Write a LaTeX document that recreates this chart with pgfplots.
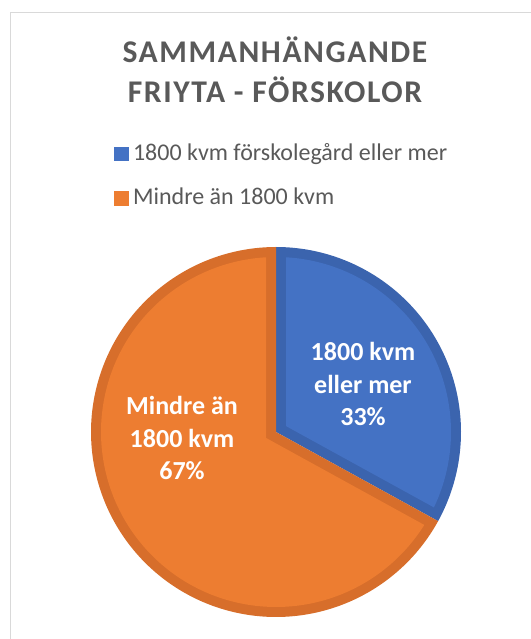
\documentclass[border=0pt]{standalone}
\usepackage{pgfplots}
\pgfplotsset{compat=1.18}
\usepackage{pgfplotstable}
\usepackage{fontspec}
\setmainfont{Carlito}
\definecolor{bfill}{HTML}{4472C4}
\definecolor{bline}{HTML}{3B64AE}
\definecolor{ofill}{HTML}{ED7D31}
\definecolor{oline}{HTML}{D76E2B}
\definecolor{txt}{HTML}{595959}
\definecolor{framec}{HTML}{D9D9D9}

\pgfplotstableread{
label value
A 33
B 67
}\pietable

\begin{document}
\begin{tikzpicture}
\pgfplotstablegetelem{0}{value}\of\pietable
\pgfmathsetmacro{\va}{\pgfplotsretval}
\pgfmathsetmacro{\ta}{90-3.6*\va}
\pgfmathsetmacro{\tb}{\ta+360}
\pgfmathsetmacro{\R}{185}
\pgfmathsetmacro{\w}{10}
\pgfmathsetmacro{\Ri}{\R-\w}
\pgfmathsetmacro{\a}{asin(\w/\Ri)}
\pgfmathsetmacro{\cy}{\w*(1+sin(\ta))/cos(\ta)}
\pgfmathsetmacro{\bs}{\ta+\a}
\pgfmathsetmacro{\be}{90-\a}
\pgfmathsetmacro{\os}{90+\a}
\pgfmathsetmacro{\oe}{\tb-\a}
\useasboundingbox (0,0) rectangle (398.25pt,479.25pt);
\begin{scope}[x=0.75pt,y=-0.75pt,shift={(0pt,479.25pt)}]
\draw[framec, line width=1.1pt] (10.5,650) -- (10.5,12.7) -- (540,12.7);
\node[font={\bfseries\fontsize{23.7}{28}\selectfont\addfontfeature{LetterSpace=5}}, text=txt, anchor=base, inner sep=0pt] at (275,63) {SAMMANHÄNGANDE};
\node[font={\bfseries\fontsize{23.7}{28}\selectfont\addfontfeature{LetterSpace=5}}, text=txt, anchor=base, inner sep=0pt] at (275,103) {FRIYTA - FÖRSKOLOR};
\end{scope}
\begin{axis}[at={(207pt,155.25pt)}, anchor=center,
  x=0.75pt, y=0.75pt, xmin=-200, xmax=200, ymin=-200, ymax=200,
  hide axis, clip=false,
  legend cell align=left,
  legend style={at={(axis description cs:0.09375,1.22825)}, anchor=north west,
    draw=none, fill=none, inner sep=0pt, outer sep=0pt,
    font=\fontsize{18}{21.6}\selectfont, text=txt,
    row sep=13.2pt,
    nodes={inner sep=0pt, text height=15pt, text depth=5pt},
    /tikz/every odd column/.append style={column sep=3.75pt}},
]
\addlegendimage{legend image code/.code={\fill[bfill] (0pt,-5pt) rectangle (10.5pt,5pt);}}
\addlegendentry{1800 kvm förskolegård eller mer}
\addlegendimage{legend image code/.code={\fill[ofill] (0pt,-5pt) rectangle (10.5pt,5pt);}}
\addlegendentry{Mindre än 1800 kvm}
% blue slice (33 %)
\addplot[fill=bline, draw=none, domain=\ta:90, samples=120, forget plot] ({\R*cos(x)},{\R*sin(x)}) -- (0,0) -- cycle;
\addplot[fill=bfill, draw=none, domain=\bs:\be, samples=120, forget plot] ({\Ri*cos(x)},{\Ri*sin(x)}) -- (\w,\cy) -- cycle;
% orange slice (67 %)
\addplot[fill=oline, draw=none, domain=90:\tb, samples=200, forget plot] ({\R*cos(x)},{\R*sin(x)}) -- (0,0) -- cycle;
\addplot[fill=ofill, draw=none, domain=\os:\oe, samples=200, forget plot] ({\Ri*cos(x)},{\Ri*sin(x)}) -- (-\w,-\cy) -- cycle;
\node[text=white, font=\bfseries\fontsize{19.5}{24.4}\selectfont, align=center] at (87,48) {1800 kvm\\eller mer\\33\%};
\node[text=white, font=\bfseries\fontsize{19.5}{24.4}\selectfont, align=center] at (-94,-6) {Mindre än\\1800 kvm\\67\%};
\end{axis}
\end{tikzpicture}
\end{document}
